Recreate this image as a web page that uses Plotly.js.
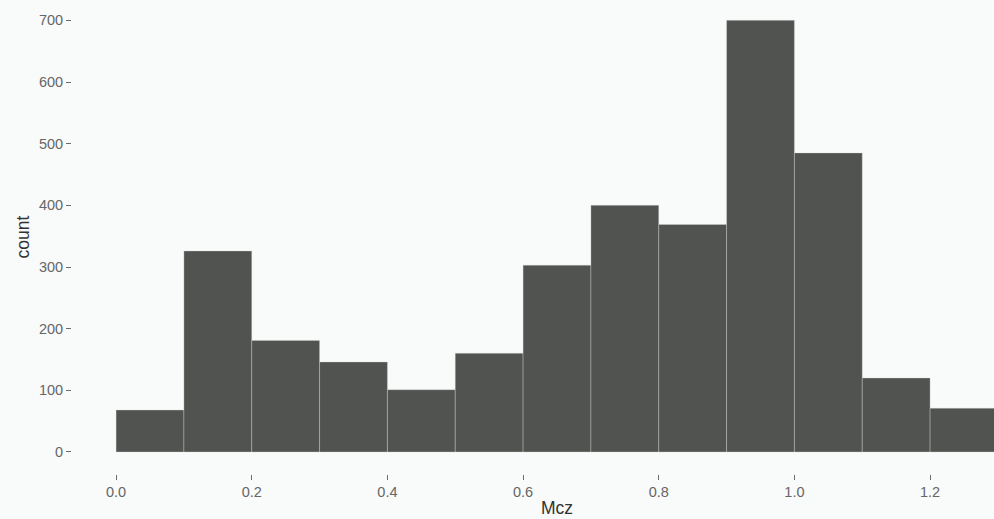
<!DOCTYPE html>
<html>
<head>
<meta charset="utf-8">
<script src="https://cdn.plot.ly/plotly-3.0.1.min.js"></script>
<style>
  html, body { margin: 0; padding: 0; overflow: hidden; background: #f9fafa; }
  #chart { width: 1050px; height: 519px; }
</style>
</head>
<body>
<div id="chart"></div>
<script>
// Histogram of Mcz, bin width 0.1
const binStarts = [0.0, 0.1, 0.2, 0.3, 0.4, 0.5, 0.6, 0.7, 0.8, 0.9, 1.0, 1.1, 1.2];
const counts = [68, 326, 181, 146, 101, 160, 303, 400, 369, 700, 485, 120, 71];
const binWidth = 0.1;
const xTicks = [0.0, 0.2, 0.4, 0.6, 0.8, 1.0, 1.2];
const xTickLabels = ["0.0", "0.2", "0.4", "0.6", "0.8", "1.0", "1.2"];
const yTicks = [0, 100, 200, 300, 400, 500, 600, 700];
const yTickLabels = ["0", "100", "200", "300", "400", "500", "600", "700"];

const trace = {
  type: 'bar',
  x: binStarts,
  y: counts,
  width: binStarts.map(() => binWidth),
  offset: 0,
  marker: {
    color: '#50534f',
    line: { color: 'rgba(215,218,214,0.5)', width: 0.7 }
  },
  hoverinfo: 'x+y'
};

const tickFont = { family: 'Liberation Sans, Arial, sans-serif', size: 14.5, color: '#666666' };
const titleFont = { family: 'Liberation Sans, Arial, sans-serif', size: 17.5, color: '#333333' };

const layout = {
  width: 1050,
  height: 519,
  margin: { l: 72, r: 8, t: 0, b: 45 },
  paper_bgcolor: '#f9fafa',
  plot_bgcolor: '#f9fafa',
  showlegend: false,
  bargap: 0,
  font: { family: 'Liberation Sans, Arial, sans-serif' },
  xaxis: {
    range: [-0.065, 1.365],
    tickmode: 'array',
    tickvals: xTicks,
    ticktext: xTickLabels,
    ticks: 'outside',
    ticklen: 5,
    tickwidth: 1,
    tickcolor: '#6b6b6b',
    tickfont: tickFont,
    showgrid: false,
    zeroline: false,
    showline: false,
    automargin: false,
    title: { text: 'Mcz', font: titleFont, standoff: 2 }
  },
  yaxis: {
    range: [-35.7, 733],
    tickmode: 'array',
    tickvals: yTicks,
    ticktext: yTickLabels,
    ticks: 'outside',
    ticklen: 5,
    tickwidth: 1,
    tickcolor: '#6b6b6b',
    tickfont: tickFont,
    showgrid: false,
    zeroline: false,
    showline: false,
    automargin: false,
    title: { text: 'count', font: titleFont, standoff: 4 }
  }
};

Plotly.newPlot('chart', [trace], layout, { displayModeBar: false, staticPlot: true });
</script>
</body>
</html>
